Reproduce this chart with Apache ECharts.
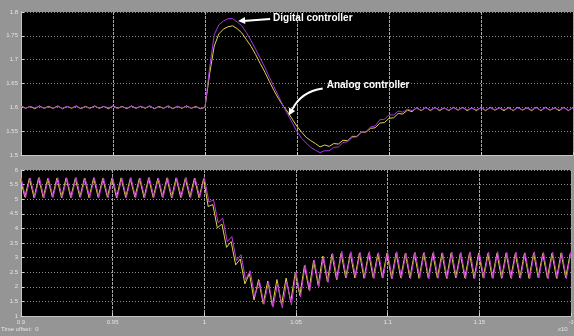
<!DOCTYPE html>
<html>
<head>
<meta charset="utf-8">
<script src="https://cdn.jsdelivr.net/npm/echarts@6/dist/echarts.min.js"></script>
<style>
  html, body { margin: 0; padding: 0; background: #959595; }
  #scope { width: 574px; height: 336px; }
</style>
</head>
<body>
<div id="scope"></div>
<script>
// Scope capture: output voltage (top) and inductor current (bottom)
// for the digital and the analog controller around a load step.

// sample times: start and step of the captured traces
const T0 = 0.9;
const DT = 0.0025;
const ANALOG_SHIFT = -0.0004; // analog current trace sampled slightly earlier

const xTicks = ['0.9', '0.95', '1', '1.05', '1.1', '1.15'];
const topTicks = ['1.5', '1.55', '1.6', '1.65', '1.7', '1.75', '1.8'];
const bottomTicks = ['1', '1.5', '2', '2.5', '3', '3.5', '4', '4.5', '5', '5.5', '6'];

// output voltage, digital controller
const voltageDigital = [
  1.602,1.598,1.602,1.599,1.602,1.598,1.601,1.598,1.602,1.598,
  1.602,1.599,1.602,1.598,1.601,1.598,1.602,1.598,1.602,1.599,
  1.602,1.598,1.601,1.598,1.602,1.598,1.602,1.599,1.602,1.598,
  1.601,1.598,1.602,1.598,1.602,1.599,1.602,1.598,1.601,1.598,
  1.600,1.683,1.752,1.773,1.781,1.786,1.786,1.779,1.771,1.757,
  1.740,1.722,1.703,1.684,1.663,1.643,1.623,1.603,1.585,1.567,
  1.549,1.535,1.525,1.516,1.510,1.505,1.509,1.509,1.516,1.517,
  1.526,1.528,1.537,1.538,1.548,1.549,1.559,1.561,1.574,1.575,
  1.584,1.584,1.592,1.590,1.596,1.593,1.598,1.594,1.599,1.595,
  1.599,1.595,1.599,1.594,1.599,1.595,1.599,1.595,1.598,1.595,
  1.599,1.594,1.599,1.595,1.599,1.595,1.598,1.594,1.599,1.595,
  1.599,1.595,1.599,1.594,1.599,1.595,1.598,1.595,1.599,1.594,1.599
];

// output voltage, analog controller
const voltageAnalog = [
  1.603,1.598,1.602,1.597,1.603,1.598,1.602,1.598,1.603,1.597,
  1.602,1.598,1.603,1.597,1.602,1.598,1.603,1.598,1.602,1.597,
  1.603,1.598,1.602,1.597,1.603,1.598,1.602,1.598,1.603,1.597,
  1.602,1.598,1.603,1.597,1.602,1.598,1.603,1.598,1.602,1.597,
  1.600,1.670,1.728,1.754,1.764,1.769,1.771,1.765,1.756,1.742,
  1.728,1.711,1.692,1.674,1.654,1.635,1.618,1.603,1.590,1.575,
  1.560,1.548,1.537,1.530,1.524,1.517,1.521,1.518,1.524,1.523,
  1.531,1.530,1.539,1.539,1.548,1.548,1.556,1.557,1.567,1.568,
  1.577,1.578,1.587,1.586,1.594,1.591,1.599,1.593,1.600,1.593,
  1.600,1.593,1.599,1.593,1.600,1.594,1.600,1.593,1.599,1.593,
  1.600,1.593,1.600,1.594,1.599,1.593,1.600,1.593,1.600,1.594,
  1.599,1.593,1.600,1.593,1.600,1.594,1.599,1.593,1.600,1.593,1.600
];

// inductor current, digital controller
const currentDigital = [
  5.74,5.05,5.73,5.06,5.75,5.04,5.72,5.06,5.74,5.05,
  5.73,5.04,5.75,5.06,5.72,5.05,5.74,5.06,5.73,5.04,
  5.75,5.05,5.73,5.06,5.74,5.04,5.72,5.05,5.75,5.06,
  5.73,5.05,5.74,5.04,5.73,5.06,5.75,5.05,5.72,5.06,
  5.74,4.90,4.98,4.20,4.35,3.55,3.72,2.90,3.10,2.25,
  2.55,1.65,2.22,1.40,2.16,1.30,2.12,1.28,2.18,1.38,
  2.50,1.65,2.75,1.85,2.92,2.00,3.05,2.15,3.15,2.25,
  3.22,2.30,3.20,2.32,3.18,2.30,3.21,2.28,3.17,2.30,
  3.19,2.27,3.20,2.29,3.16,2.28,3.19,2.30,3.18,2.27,
  3.20,2.29,3.17,2.28,3.19,2.30,3.18,2.27,3.20,2.28,
  3.17,2.29,3.19,2.28,3.20,2.30,3.18,2.27,3.19,2.29,
  3.17,2.28,3.20,2.30,3.18,2.27,3.19,2.29,3.17,2.28,3.20
];

// inductor current, analog controller
const currentAnalog = [
  5.71,5.07,5.72,5.05,5.73,5.06,5.71,5.07,5.72,5.05,
  5.73,5.06,5.71,5.07,5.72,5.05,5.73,5.06,5.71,5.07,
  5.72,5.05,5.73,5.06,5.71,5.07,5.72,5.05,5.73,5.06,
  5.71,5.07,5.72,5.05,5.73,5.06,5.71,5.07,5.72,5.05,
  5.70,4.75,4.82,4.02,4.15,3.35,3.55,2.75,2.95,2.10,
  2.45,1.55,2.25,1.42,2.20,1.35,2.25,1.38,2.30,1.48,
  2.48,1.70,2.72,1.90,2.90,2.05,3.05,2.18,3.12,2.25,
  3.15,2.31,3.14,2.30,3.16,2.29,3.15,2.31,3.13,2.30,
  3.15,2.29,3.16,2.31,3.14,2.30,3.15,2.29,3.16,2.31,
  3.14,2.30,3.15,2.29,3.16,2.31,3.14,2.30,3.15,2.29,
  3.16,2.31,3.14,2.30,3.15,2.29,3.16,2.31,3.14,2.30,
  3.15,2.29,3.16,2.31,3.14,2.30,3.15,2.29,3.16,2.31,3.15
];

// annotation anchors in data units (time, voltage)
const digitalArrowTip = [1.018, 1.781];
const analogArrowTip = [1.0455, 1.583];

function toPoints(values, shift) {
  return values.map((v, i) => [T0 + shift + i * DT, v]);
}

const COL_YELLOW = '#dcd64a';
const COL_PURPLE = '#a436e0';
const COL_MAGENTA = '#c83ad8';
const LABEL_COL = '#e4e4e4';
const FRAME_COL = '#c4c4c4';
const FONT = 'Liberation Sans, Arial, sans-serif';

const xTickSet = new Set(xTicks);

function xAxisCfg(gridIndex, showLabels) {
  return {
    type: 'value', gridIndex: gridIndex, min: 0.9, max: 1.2, interval: 0.05,
    axisLine: { show: true, lineStyle: { color: FRAME_COL, width: 1 } },
    axisTick: { show: true, inside: true, length: 3, lineStyle: { color: '#d0d0d0' } },
    axisLabel: {
      show: showLabels, color: LABEL_COL, fontSize: 6, fontFamily: FONT, margin: 3,
      formatter: v => { const s = String(+v.toFixed(2)); return xTickSet.has(s) ? s : ''; }
    },
    splitLine: { show: true, lineStyle: { color: '#a8a8a8', width: 1, type: [3, 1] } }
  };
}

function yAxisCfg(gridIndex, min, max, interval, ticks) {
  const tickSet = new Set(ticks);
  return {
    type: 'value', gridIndex: gridIndex, min: min, max: max, interval: interval,
    axisLine: { show: true, lineStyle: { color: FRAME_COL, width: 1 } },
    axisTick: { show: true, inside: true, length: 3, lineStyle: { color: '#d0d0d0' } },
    axisLabel: {
      color: LABEL_COL, fontSize: 6, fontFamily: FONT, margin: 3,
      formatter: v => { const s = String(+v.toFixed(2)); return tickSet.has(s) ? s : ''; }
    },
    splitLine: { show: true, lineStyle: { color: '#8c8c8c', width: 1, type: [1, 2] } }
  };
}

function trace(name, values, shift, color, axis) {
  return {
    name: name, type: 'line', xAxisIndex: axis, yAxisIndex: axis,
    data: toPoints(values, shift), showSymbol: false, symbol: 'none',
    lineStyle: { color: color, width: 1 }, silent: true
  };
}

const chart = echarts.init(document.getElementById('scope'), null, { renderer: 'canvas' });

chart.setOption({
  animation: false,
  backgroundColor: '#959595',
  grid: [
    { left: 21, top: 12, width: 552, height: 143, show: true, backgroundColor: '#000', borderWidth: 0 },
    { left: 21, top: 170, width: 552, height: 146, show: true, backgroundColor: '#000', borderWidth: 0 }
  ],
  xAxis: [xAxisCfg(0, false), xAxisCfg(1, true)],
  yAxis: [
    yAxisCfg(0, 1.5, 1.8, 0.05, topTicks),
    yAxisCfg(1, 1, 6, 0.5, bottomTicks)
  ],
  series: [
    trace('Analog controller', voltageAnalog, 0, COL_YELLOW, 0),
    trace('Digital controller', voltageDigital, 0, COL_PURPLE, 0),
    trace('Analog controller', currentAnalog, ANALOG_SHIFT, COL_YELLOW, 1),
    trace('Digital controller', currentDigital, 0, COL_MAGENTA, 1)
  ]
});

// arrowhead triangle pointing at (tx, ty) coming from direction (dx, dy)
function arrowHead(tx, ty, dx, dy) {
  const len = Math.hypot(dx, dy);
  const ux = dx / len, uy = dy / len;
  const bx = tx - ux * 7, by = ty - uy * 7;
  const px = -uy * 3.5, py = ux * 3.5;
  return {
    type: 'polygon',
    shape: { points: [[tx, ty], [bx + px, by + py], [bx - px, by - py]] },
    style: { fill: '#ffffff' }, silent: true, z: 10
  };
}

const dTip = chart.convertToPixel({ gridIndex: 0 }, digitalArrowTip);
const aTip = chart.convertToPixel({ gridIndex: 0 }, analogArrowTip);

const textStyle = { fill: '#ffffff', fontSize: 10, fontWeight: 'bold', fontFamily: FONT, verticalAlign: 'middle' };

chart.setOption({
  graphic: [
    {
      type: 'line', silent: true, z: 10,
      shape: { x1: dTip[0] + 32, y1: dTip[1] - 2, x2: dTip[0] + 5, y2: dTip[1] },
      style: { stroke: '#ffffff', lineWidth: 2 }
    },
    arrowHead(dTip[0], dTip[1], -1, 0.07),
    {
      type: 'text', silent: true, z: 10, left: dTip[0] + 35, top: dTip[1] - 8,
      style: Object.assign({ text: 'Digital controller' }, textStyle)
    },
    {
      type: 'bezierCurve', silent: true, z: 10,
      shape: {
        x1: aTip[0] + 34, y1: aTip[1] - 27,
        cpx1: aTip[0] + 12, cpy1: aTip[1] - 24,
        x2: aTip[0] + 3, y2: aTip[1] - 5
      },
      style: { stroke: '#ffffff', lineWidth: 2, fill: null }
    },
    arrowHead(aTip[0], aTip[1], -0.55, 1),
    {
      type: 'text', silent: true, z: 10, left: aTip[0] + 38, top: aTip[1] - 35,
      style: Object.assign({ text: 'Analog controller' }, textStyle)
    },
    {
      type: 'text', silent: true, left: 1, top: 326,
      style: { text: 'Time offset:  0', fill: LABEL_COL, fontSize: 6, fontFamily: FONT }
    },
    {
      type: 'text', silent: true, left: 558, top: 326,
      style: { text: 'x10', fill: LABEL_COL, fontSize: 6, fontFamily: FONT }
    },
    {
      type: 'text', silent: true, left: 569, top: 320,
      style: { text: '-3', fill: LABEL_COL, fontSize: 5, fontFamily: FONT }
    }
  ]
});
</script>
</body>
</html>
